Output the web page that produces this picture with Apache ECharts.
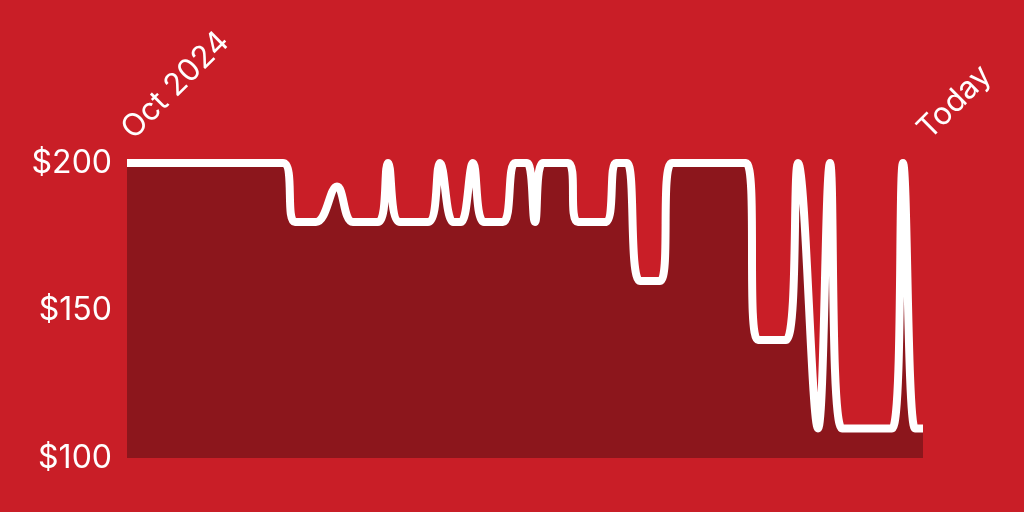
<!DOCTYPE html>
<html>
<head>
<meta charset="utf-8">
<script src="https://cdn.jsdelivr.net/npm/echarts@6/dist/echarts.min.js"></script>
<style>
  html, body { margin: 0; padding: 0; background: #C91E27; }
  #chart { width: 1024px; height: 512px; }
</style>
</head>
<body>
<div id="chart"></div>
<script>
// Days since start of Oct 2024 (price change points)
const days = [0, 78, 84, 94.5, 105, 113, 125.5, 130.5, 136.5, 150.5, 156.5, 163, 167, 173, 178.5, 188,
  194, 200, 204, 208, 220.5, 225.5, 239, 244.5, 250, 256.5, 266.5, 272.5, 309.5, 315.5, 329.5,
  335.5, 345.5, 351.5, 357.5, 382.5, 388, 394, 398];
// Price in dollars at each point
const prices = [200, 200, 180, 180, 192, 180, 180, 200, 180, 180, 200, 180, 180, 200, 180, 180,
  200, 200, 180, 200, 200, 180, 180, 200, 200, 160, 160, 200, 200, 140, 140,
  200, 110, 200, 110, 110, 200, 110, 110];
const totalDays = 398;
const xLabels = ['Oct 2024', 'Today'];
const yTicks = [100, 150, 200];

const chart = echarts.init(document.getElementById('chart'), null, { renderer: 'canvas' });
chart.setOption({
  backgroundColor: '#C91E27',
  animation: false,
  grid: { left: 127, right: 101, top: 163, bottom: 54 },
  xAxis: {
    type: 'value',
    position: 'top',
    min: 0,
    max: totalDays,
    interval: totalDays,
    axisLine: { show: false },
    axisTick: { show: false },
    splitLine: { show: false },
    axisLabel: {
      rotate: -45,
      margin: 29,
      color: '#ffffff',
      fontFamily: 'Inter',
      fontSize: 31,
      formatter: v => (v === 0 ? xLabels[0] : xLabels[1])
    }
  },
  yAxis: {
    type: 'value',
    min: yTicks[0],
    max: yTicks[2],
    interval: 50,
    axisLine: { show: false },
    axisTick: { show: false },
    splitLine: { show: false },
    axisLabel: {
      margin: 15,
      color: '#ffffff',
      fontFamily: 'Inter',
      fontSize: 32,
      formatter: v => '$' + v
    }
  },
  series: [{
    type: 'line',
    data: days.map((d, i) => [d, prices[i]]),
    smooth: 0.4,
    showSymbol: false,
    clip: false,
    lineStyle: { color: '#ffffff', width: 8 },
    areaStyle: { color: '#8C161C', opacity: 1 }
  }]
});
</script>
</body>
</html>
